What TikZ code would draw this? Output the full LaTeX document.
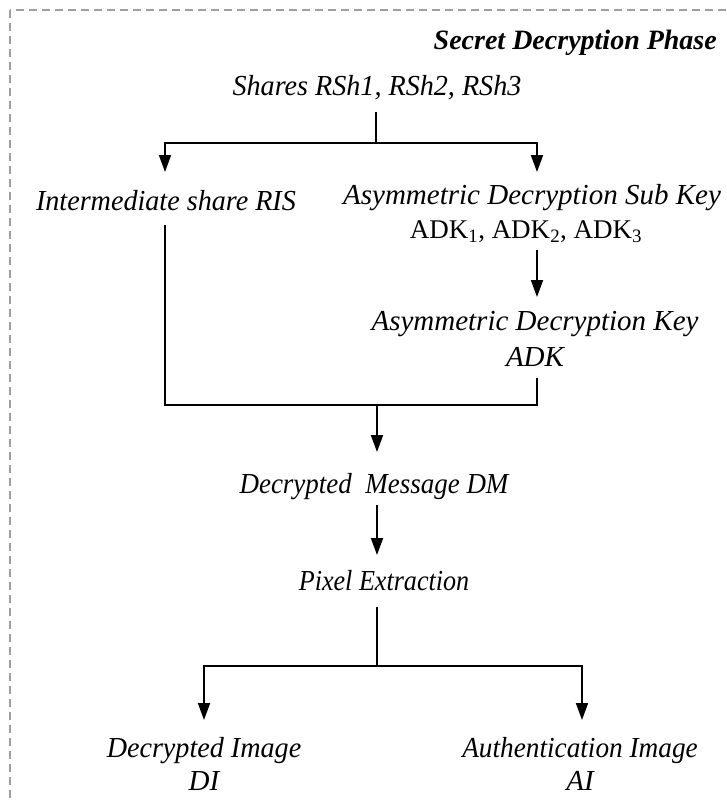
\documentclass[tikz,border=0pt]{standalone}
\usepackage{fontspec}
\usepackage{graphicx}
\setmainfont{Liberation Serif}
\usetikzlibrary{arrows.meta}
\newcommand{\sx}[2]{\scalebox{#1}[1]{#2}}
\tikzset{
  lbl/.style={inner sep=0pt, align=center, font=\fontsize{29}{33}\selectfont\itshape},
  lblup/.style={inner sep=0pt, font=\fontsize{27}{31}\selectfont},
  ttl/.style={inner sep=0pt, anchor=east, font=\fontsize{28}{32}\selectfont\bfseries\itshape},
  conn/.style={line width=1.8pt},
  arr/.style={line width=1.8pt, -{Triangle[length=17pt,width=12pt]}},
  frame/.style={draw=gray!75, line width=1.1pt, dash pattern=on 8pt off 5pt}
}
\begin{document}
\begin{tikzpicture}[x=1pt,y=-1pt]
\path[use as bounding box] (0,0) rectangle (727,801);
\begin{scope}
\clip (0,0) rectangle (727,801);
\draw[frame] (10,10) rectangle (760,840);
\end{scope}
% nodes
\node[ttl] (title) at (717,43) {Secret Decryption Phase};
\node[lbl] (shares) at (377,88) {\sx{0.97}{Shares RSh1, RSh2, RSh3}};
\node[lbl] (inter) at (166,201) {\sx{0.97}{Intermediate share RIS}};
\node[lbl] (subkey) at (532,198) {Asymmetric Decryption Sub Key};
\node[lblup] (adks) at (526,232) {ADK\textsubscript{1}, ADK\textsubscript{2}, ADK\textsubscript{3}};
\node[lbl] (key) at (535,324) {Asymmetric Decryption Key};
\node[lbl] (adk) at (535,357) {ADK};
\node[lbl] (dm) at (374,487) {\sx{0.93}{Decrypted\ \ Message DM}};
\node[lbl] (pix) at (384,581) {\sx{0.9}{Pixel Extraction}};
\node[lbl] (di) at (204,764) {\sx{0.97}{Decrypted Image}\\DI};
\node[lbl] (ai) at (580,764) {\sx{0.94}{Authentication Image}\\AI};
% connector points
\coordinate (s0) at (376,112);
\coordinate (j1) at (376,143);
\coordinate (t1) at (165,172);
\coordinate (t2) at (537,172);
\coordinate (l1) at (165,225);
\coordinate (r1) at (537,378);
\coordinate (j2) at (377,405);
\coordinate (t3) at (377,452);
\coordinate (k0) at (537,250);
\coordinate (k1) at (537,297);
\coordinate (d0) at (377,505);
\coordinate (d1) at (377,555);
\coordinate (p0) at (377,607);
\coordinate (j3) at (377,666);
\coordinate (t4) at (204,720);
\coordinate (t5) at (582,720);
% connectors
\draw[conn] (s0) -- (j1);
\draw[arr] (j1) -| (t1);
\draw[arr] (j1) -| (t2);
\draw[conn] (l1) |- (j2) -| (r1);
\draw[arr] (j2) -- (t3);
\draw[arr] (k0) -- (k1);
\draw[arr] (d0) -- (d1);
\draw[conn] (p0) -- (j3);
\draw[arr] (j3) -| (t4);
\draw[arr] (j3) -| (t5);
\end{tikzpicture}
\end{document}
